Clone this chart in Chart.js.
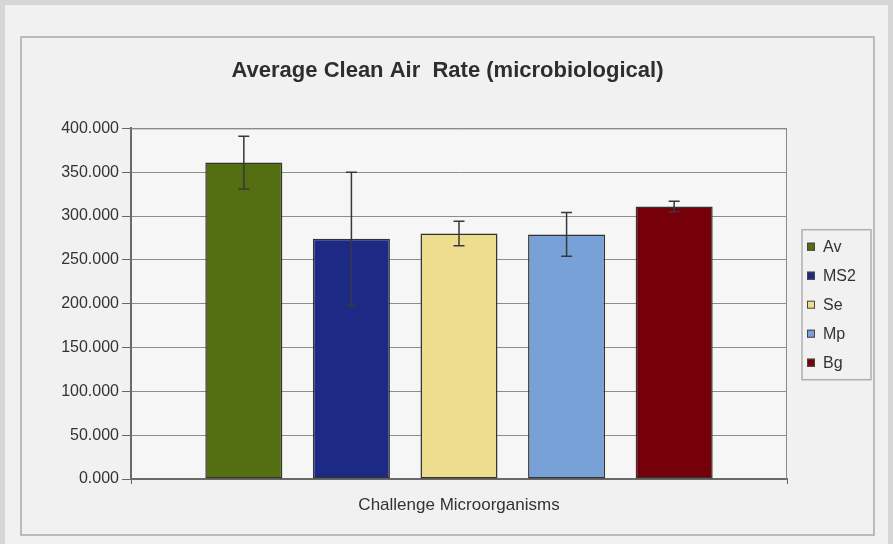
<!DOCTYPE html>
<html>
<head>
<meta charset="utf-8">
<script src="https://cdn.jsdelivr.net/npm/chart.js@4.4.1/dist/chart.umd.min.js"></script>
<style>
  html, body { margin: 0; padding: 0; background: #f1f1f1; }
</style>
</head>
<body>
<canvas id="airChart" width="893" height="544"></canvas>
<script>
// values
const category = ['Challenge Microorganisms'];
const organisms = ['Av', 'MS2', 'Se', 'Mp', 'Bg'];
const cleanAirRate = [361, 274, 280, 279, 311];
const errorRange = [30, 76, 14, 25, 6];
const yTickStep = 50;

const barColors = ['#546e12', '#1c2a86', '#efdd8f', '#78a1d8', '#760009'];
const fontFamily = '"Liberation Sans", Arial, sans-serif';

// grey page frame, white-ish chart box and plot background
const framePlugin = {
  id: 'frame',
  beforeDraw(chart) {
    const ctx = chart.ctx;
    const a = chart.chartArea;
    ctx.save();
    ctx.fillStyle = '#f1f1f1';
    ctx.fillRect(0, 0, chart.width, chart.height);
    ctx.fillStyle = '#d6d6d6';
    ctx.fillRect(0, 0, chart.width, 5);
    ctx.fillRect(0, 0, 5, chart.height);
    ctx.fillRect(chart.width - 5, 0, 5, chart.height);
    ctx.strokeStyle = '#a9a9a9';
    ctx.lineWidth = 1.5;
    ctx.strokeRect(21, 37, 853, 498);
    ctx.fillStyle = '#f6f6f6';
    ctx.fillRect(a.left, a.top, a.right - a.left, a.bottom - a.top);
    ctx.restore();
  },
  beforeDatasetsDraw(chart) {
    const ctx = chart.ctx;
    const a = chart.chartArea;
    ctx.save();
    ctx.strokeStyle = '#8a8a8a';
    ctx.lineWidth = 1;
    ctx.beginPath();
    ctx.moveTo(a.left, a.top + 0.5);
    ctx.lineTo(a.right - 0.5, a.top + 0.5);
    ctx.lineTo(a.right - 0.5, a.bottom);
    ctx.stroke();
    ctx.restore();
  }
};

// error bars from the same scale as the bars
const errorBarPlugin = {
  id: 'errorBars',
  afterDatasetsDraw(chart) {
    const ctx = chart.ctx;
    const y = chart.scales.y;
    ctx.save();
    ctx.strokeStyle = '#383838';
    ctx.lineWidth = 1.5;
    chart.data.datasets.forEach((ds, i) => {
      const bar = chart.getDatasetMeta(i).data[0];
      const err = errorRange[i];
      const val = ds.data[0];
      const top = y.getPixelForValue(val + err);
      const bottom = y.getPixelForValue(val - err);
      ctx.beginPath();
      ctx.moveTo(bar.x, top);
      ctx.lineTo(bar.x, bottom);
      ctx.moveTo(bar.x - 5.5, top);
      ctx.lineTo(bar.x + 5.5, top);
      ctx.moveTo(bar.x - 5.5, bottom);
      ctx.lineTo(bar.x + 5.5, bottom);
      ctx.stroke();
    });
    ctx.restore();
  }
};

// legend on the right, as its own layout box so the title stays centred on the chart box
const legendBoxPlugin = {
  id: 'legendBox',
  beforeInit(chart) {
    Chart.layouts.addBox(chart, {
      position: 'right',
      weight: 0,
      fullSize: false,
      options: { stackWeight: 1 },
      isHorizontal() { return false; },
      update(maxWidth, maxHeight) { this.width = 87; this.height = maxHeight; },
      draw() {
        const ctx = chart.ctx;
        const a = chart.chartArea;
        const rowH = 29;
        const n = chart.data.datasets.length;
        const mid = (a.top + a.bottom) / 2 + 1;
        const boxLeft = this.left + 15;
        const boxTop = mid - 75;
        ctx.save();
        ctx.strokeStyle = '#b0b0b0';
        ctx.lineWidth = 1.5;
        ctx.strokeRect(boxLeft, boxTop, 69, 150);
        ctx.font = '16px ' + fontFamily;
        ctx.textBaseline = 'middle';
        ctx.textAlign = 'left';
        chart.data.datasets.forEach((ds, i) => {
          const cy = mid + (i - (n - 1) / 2) * rowH;
          ctx.fillStyle = ds.backgroundColor;
          ctx.fillRect(boxLeft + 5, cy - 4, 8, 8);
          ctx.strokeStyle = '#444';
          ctx.lineWidth = 1;
          ctx.strokeRect(boxLeft + 5.5, cy - 3.5, 7, 7);
          ctx.fillStyle = '#333';
          ctx.fillText(ds.label, boxLeft + 21, cy + 1);
        });
        ctx.restore();
      }
    });
  }
};

const ctx = document.getElementById('airChart').getContext('2d');
const chart = new Chart(ctx, {
  type: 'bar',
  data: {
    labels: category,
    datasets: organisms.map((name, i) => ({
      label: name,
      data: [cleanAirRate[i]],
      backgroundColor: barColors[i],
      borderColor: '#333333',
      borderWidth: 1.5,
      borderSkipped: false,
      categoryPercentage: 0.82,
      barPercentage: 0.716
    }))
  },
  options: {
    responsive: false,
    animation: false,
    layout: { padding: { left: 21, right: 19, top: 37, bottom: 9 } },
    plugins: {
      legend: { display: false },
      tooltip: { enabled: false },
      title: {
        display: true,
        text: 'Average Clean Air  Rate (microbiological)',
        color: '#2e2e2e',
        font: { family: fontFamily, size: 22, weight: 'bold' },
        padding: { top: 21, bottom: 44 }
      }
    },
    scales: {
      x: {
        grid: { drawOnChartArea: false, tickLength: 5, color: '#666' },
        border: { color: '#6a6a6a', width: 2 },
        ticks: { color: '#333', padding: 11, font: { family: fontFamily, size: 17 } },
        afterFit(scale) { scale.height = 56; }
      },
      y: {
        min: 0,
        max: 400,
        grid: { color: '#8c8c8c', tickLength: 9, tickColor: '#666' },
        border: { color: '#6a6a6a', width: 2 },
        ticks: {
          stepSize: yTickStep,
          color: '#333',
          padding: 3,
          font: { family: fontFamily, size: 16 },
          callback: v => v.toFixed(3)
        },
        afterFit(scale) { scale.width = 110; }
      }
    }
  },
  plugins: [framePlugin, errorBarPlugin, legendBoxPlugin]
});
</script>
</body>
</html>
